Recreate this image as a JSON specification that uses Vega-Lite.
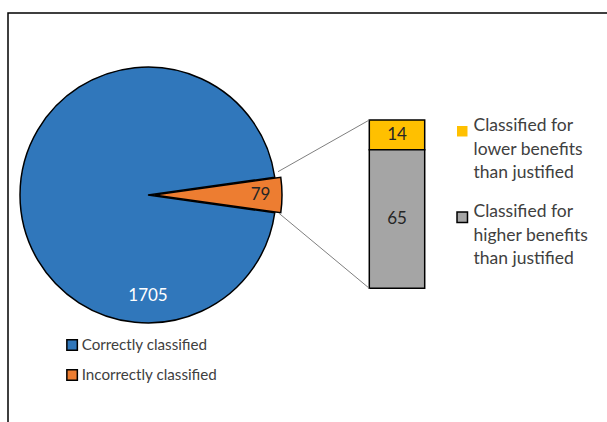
{
  "$schema": "https://vega.github.io/schema/vega-lite/v6.json",
  "width": 599,
  "height": 409,
  "padding": {"left": 8, "top": 13, "right": 0, "bottom": 0},
  "autosize": {"type": "none"},
  "config": {
    "font": "Lato",
    "view": {"stroke": "#000000", "strokeWidth": 1.5, "strokeDash": [599, 1008, 409]},
    "style": {"guide-label": {"lineHeight": 23.5}}
  },
  "resolve": {"scale": {"y": "independent", "color": "independent"}},
  "layer": [
    {
      "data": {
        "values": [
          {"outcome": "Correctly classified", "cases": 1705},
          {"outcome": "Incorrectly classified", "cases": 79}
        ]
      },
      "transform": [
        {"stack": "cases", "groupby": [], "sort": [{"field": "cases", "order": "ascending"}], "as": ["start", "end"]}
      ],
      "encoding": {
        "x": {
          "datum": "All cases", "type": "nominal", "axis": null,
          "scale": {"type": "band", "domain": ["All cases", "Incorrectly classified"], "range": [112.3, 416.7], "paddingInner": 0.7775, "paddingOuter": 0}
        },
        "y": {
          "datum": "All cases", "type": "nominal", "axis": null,
          "scale": {"type": "point", "domain": ["All cases"], "range": [0, 364], "padding": 0.5}
        }
      },
      "layer": [
        {
          "transform": [{"filter": "datum.outcome === 'Correctly classified'"}],
          "mark": {"type": "arc", "outerRadius": 128, "stroke": "#000000", "strokeWidth": 1.5},
          "encoding": {
            "theta": {"field": "start", "type": "quantitative", "scale": {"domain": [0, 1784], "range": [1.43168, 7.71487]}},
            "theta2": {"field": "end"},
            "color": {
              "field": "outcome", "type": "nominal",
              "scale": {"domain": ["Correctly classified", "Incorrectly classified"], "range": ["#3077BB", "#ED7D31"]},
              "legend": {
                "title": null, "orient": "none", "legendX": 56.5, "legendY": 324.5, "padding": 0,
                "symbolType": "square", "symbolSize": 110, "symbolStrokeColor": "#000000", "symbolStrokeWidth": 1.5,
                "labelFont": "Lato", "labelFontSize": 15.2, "labelColor": "#404040", "labelOffset": 2, "rowPadding": 13
              }
            }
          }
        },
        {
          "transform": [{"filter": "datum.outcome === 'Incorrectly classified'"}],
          "mark": {"type": "arc", "outerRadius": 128, "stroke": "#000000", "strokeWidth": 1.5, "xOffset": 6},
          "encoding": {
            "theta": {"field": "start", "type": "quantitative", "scale": {"domain": [0, 1784], "range": [1.43168, 7.71487]}},
            "theta2": {"field": "end"},
            "color": {"field": "outcome", "type": "nominal"}
          }
        },
        {
          "transform": [{"filter": "datum.outcome === 'Correctly classified'"}],
          "mark": {"type": "text", "dy": 101, "fontSize": 17, "fill": "#FFFFFF", "align": "center", "baseline": "middle"},
          "encoding": {"text": {"field": "cases", "type": "quantitative"}}
        },
        {
          "transform": [{"filter": "datum.outcome === 'Incorrectly classified'"}],
          "mark": {"type": "text", "dx": 112.5, "fontSize": 17, "fill": "#262626", "align": "center", "baseline": "middle"},
          "encoding": {"text": {"field": "cases", "type": "quantitative"}}
        }
      ]
    },
    {
      "data": {
        "values": [
          {"direction": "Classified for lower benefits than justified", "cases": 14},
          {"direction": "Classified for higher benefits than justified", "cases": 65}
        ]
      },
      "layer": [
        {
          "mark": {"type": "bar", "stroke": "#000000", "strokeWidth": 1.5},
          "encoding": {
            "x": {
              "datum": "Incorrectly classified", "type": "nominal", "axis": null,
              "scale": {"type": "band", "domain": ["All cases", "Incorrectly classified"], "range": [112.3, 416.7], "paddingInner": 0.7775, "paddingOuter": 0}
            },
            "y": {"field": "cases", "type": "quantitative", "stack": "zero", "axis": null, "scale": {"range": [275.3, 107], "nice": false}},
            "order": {"field": "cases", "sort": "descending"},
            "color": {
              "field": "direction", "type": "nominal",
              "scale": {"domain": ["Classified for lower benefits than justified", "Classified for higher benefits than justified"], "range": ["#FFC000", "#A5A5A5"]},
              "legend": {
                "title": null, "orient": "none", "legendX": 445.5, "legendY": 109.5, "padding": 0,
                "symbolType": "square", "symbolSize": 110, "symbolStrokeColor": "#000000", "symbolStrokeWidth": 1.5,
                "labelFont": "Lato", "labelFontSize": 17.5, "labelColor": "#404040", "labelOffset": 2.5, "rowPadding": 20,
                "labelBaseline": "alphabetic", "labelLimit": 200,
                "labelExpr": "['Classified for', slice(datum.label, 15, indexof(datum.label, ' than')), 'than justified']",
                "encode": {
                  "symbols": {
                    "update": {
                      "stroke": {"signal": "datum.value === 'Classified for lower benefits than justified' ? 'transparent' : '#000000'"}
                    }
                  }
                }
              }
            }
          }
        },
        {
          "mark": {"type": "text", "fontSize": 17, "fill": "#262626", "align": "center", "baseline": "middle"},
          "encoding": {
            "x": {"datum": "Incorrectly classified", "type": "nominal"},
            "y": {"field": "cases", "type": "quantitative", "stack": "zero", "bandPosition": 0.5},
            "order": {"field": "cases", "sort": "descending"},
            "text": {"field": "cases", "type": "quantitative"}
          }
        },
        {
          "data": {"values": [{"link": "upper"}]},
          "mark": {"type": "rule", "color": "#7F7F7F", "strokeWidth": 1, "xOffset": 130, "yOffset": 51.7},
          "encoding": {
            "x": {"datum": "All cases", "type": "nominal", "bandPosition": 0.5},
            "x2": {"datum": "Incorrectly classified", "bandPosition": 0},
            "y": {"datum": 79, "type": "quantitative"},
            "y2": {"datum": 79}
          }
        },
        {
          "data": {"values": [{"link": "lower"}]},
          "mark": {"type": "rule", "color": "#7F7F7F", "strokeWidth": 1, "xOffset": 131, "yOffset": -75},
          "encoding": {
            "x": {"datum": "All cases", "type": "nominal", "bandPosition": 0.5},
            "x2": {"datum": "Incorrectly classified", "bandPosition": 0},
            "y": {"datum": 0, "type": "quantitative"},
            "y2": {"datum": 0}
          }
        }
      ]
    }
  ]
}
